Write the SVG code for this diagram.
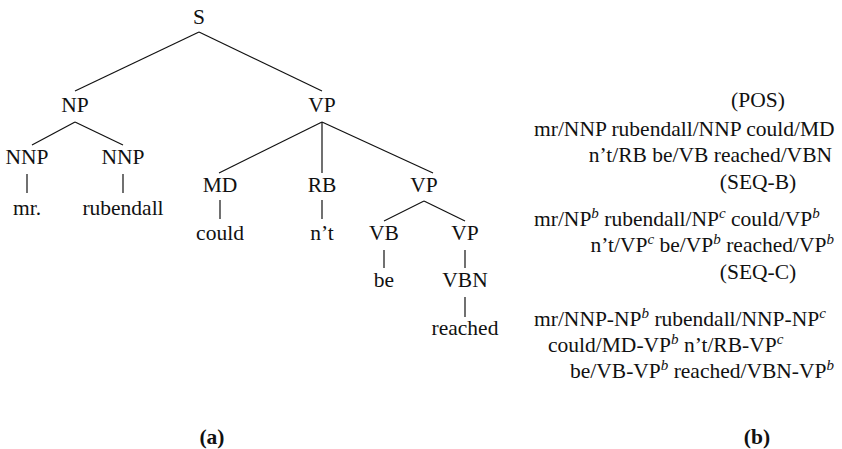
<svg xmlns="http://www.w3.org/2000/svg" width="842" height="449" viewBox="0 0 842 449" font-family="'Liberation Serif', 'DejaVu Serif', serif">
<style>
text{font-size:21.5px;fill:#111}
.m{text-anchor:middle}
.e{text-anchor:end}
.b{font-weight:bold}
.s{font-style:italic;font-size:15px}
line{stroke:#111;stroke-width:1.2}
</style>
<rect width="842" height="449" fill="#fff"/>
<g id="connectors">
<line x1="199" y1="32" x2="75" y2="91"/>
<line x1="199" y1="32" x2="322" y2="91"/>
<line x1="75" y1="122" x2="32" y2="145"/>
<line x1="75" y1="122" x2="123" y2="145"/>
<line x1="27" y1="174" x2="27" y2="193"/>
<line x1="123" y1="174" x2="123" y2="193"/>
<line x1="322" y1="122" x2="219" y2="173"/>
<line x1="322" y1="122" x2="322" y2="173"/>
<line x1="322" y1="122" x2="433" y2="173"/>
<line x1="220" y1="200" x2="220" y2="219"/>
<line x1="322" y1="200" x2="322" y2="219"/>
<line x1="424" y1="201" x2="384" y2="221"/>
<line x1="424" y1="201" x2="465" y2="221"/>
<line x1="384" y1="250" x2="384" y2="268"/>
<line x1="465" y1="250" x2="465" y2="268"/>
<line x1="465" y1="297" x2="465" y2="317"/>
</g>
<g id="n-S"><text class="m" x="199" y="24">S</text></g>
<g id="n-NP"><text class="m" x="75" y="112">NP</text></g>
<g id="n-VP1"><text class="m" x="322" y="112">VP</text></g>
<g id="n-NNP1"><text class="m" x="27" y="164">NNP</text></g>
<g id="n-NNP2"><text class="m" x="123" y="164">NNP</text></g>
<g id="n-mr"><text class="m" x="27" y="215">mr.</text></g>
<g id="n-rubendall"><text class="m" x="123" y="215">rubendall</text></g>
<g id="n-MD"><text class="m" x="220" y="192">MD</text></g>
<g id="n-RB"><text class="m" x="322" y="192">RB</text></g>
<g id="n-VP2"><text class="m" x="424" y="192">VP</text></g>
<g id="n-could"><text class="m" x="220" y="240">could</text></g>
<g id="n-nt"><text class="m" x="322" y="240">n’t</text></g>
<g id="n-VB"><text class="m" x="384" y="240">VB</text></g>
<g id="n-VP3"><text class="m" x="465" y="240">VP</text></g>
<g id="n-be"><text class="m" x="384" y="287">be</text></g>
<g id="n-VBN"><text class="m" x="465" y="287">VBN</text></g>
<g id="n-reached"><text class="m" x="465" y="335">reached</text></g>
<g id="label-a"><text class="m b" x="212" y="444">(a)</text></g>
<g id="panel-b">
<text class="m" x="758" y="107">(POS)</text>
<text x="534" y="136">mr/NNP rubendall/NNP could/MD</text>
<text class="e" x="832" y="162">n’t/RB be/VB reached/VBN</text>
<text class="m" x="758" y="189">(SEQ-B)</text>
<text x="534" y="226">mr/NP<tspan class="s" dy="-8">b</tspan><tspan dy="8"> rubendall/NP</tspan><tspan class="s" dy="-8">c</tspan><tspan dy="8"> could/VP</tspan><tspan class="s" dy="-8">b</tspan></text>
<text class="e" x="834" y="252">n’t/VP<tspan class="s" dy="-8">c</tspan><tspan dy="8"> be/VP</tspan><tspan class="s" dy="-8">b</tspan><tspan dy="8"> reached/VP</tspan><tspan class="s" dy="-8">b</tspan></text>
<text class="m" x="758" y="279">(SEQ-C)</text>
<text x="534" y="326">mr/NNP-NP<tspan class="s" dy="-8">b</tspan><tspan dy="8"> rubendall/NNP-NP</tspan><tspan class="s" dy="-8">c</tspan></text>
<text x="548" y="352">could/MD-VP<tspan class="s" dy="-8">b</tspan><tspan dy="8"> n’t/RB-VP</tspan><tspan class="s" dy="-8">c</tspan></text>
<text x="570" y="378">be/VB-VP<tspan class="s" dy="-8">b</tspan><tspan dy="8"> reached/VBN-VP</tspan><tspan class="s" dy="-8">b</tspan></text>
<text class="m b" x="757" y="444">(b)</text>
</g>
</svg>
